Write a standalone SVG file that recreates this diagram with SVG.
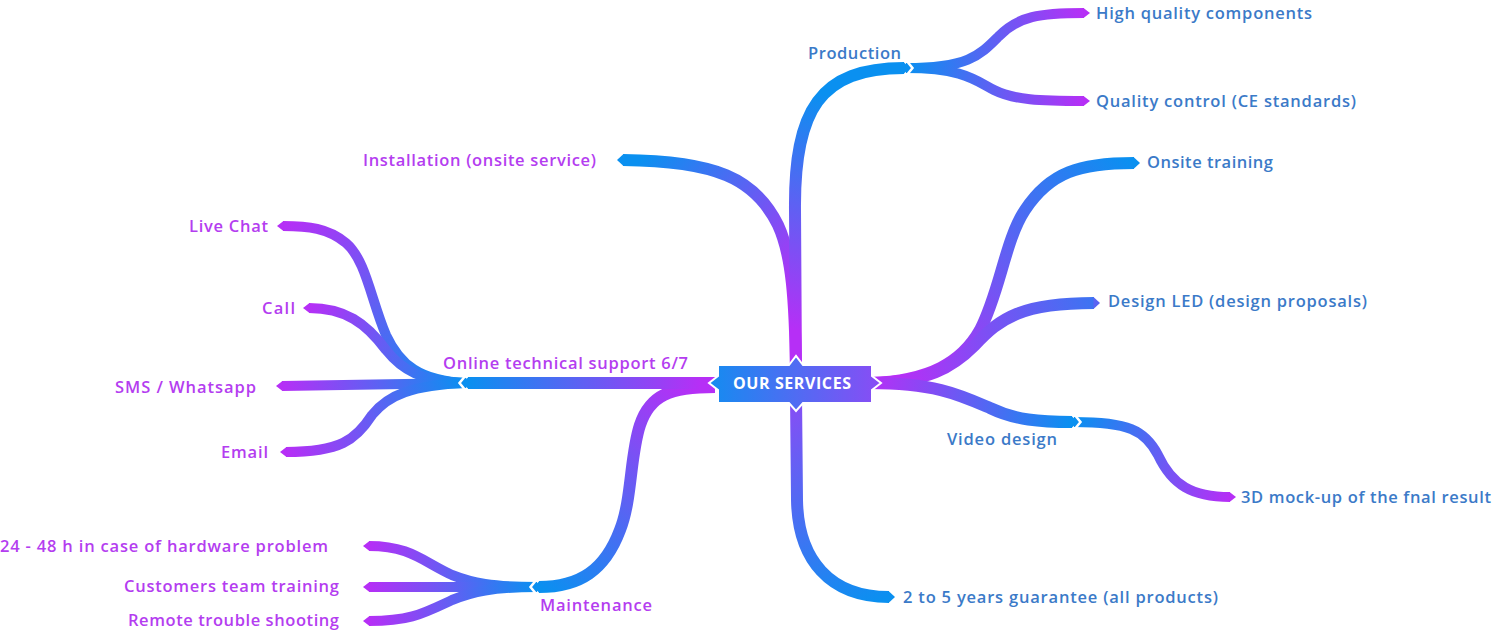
<svg xmlns="http://www.w3.org/2000/svg" width="1492" height="632" viewBox="0 0 1492 632">
<style>
.l1{fill:none;stroke-width:12;stroke-linecap:butt}
.l2{fill:none;stroke-width:10;stroke-linecap:butt}
.cut{fill:none;stroke:#fff;stroke-width:2.5;stroke-linejoin:miter}
.t{font-family:"Open Sans","Liberation Sans",sans-serif;font-size:16.5px;font-weight:600}
.p{fill:#b43df0}
.b{fill:#3b7ac8}
.tb{fill:#0a90f0}
.tp{fill:#b62ff6}
</style>
<defs>
<linearGradient id="gP1" gradientUnits="userSpaceOnUse" x1="796" y1="330" x2="850" y2="100"><stop offset="0" stop-color="#b62ff6"/><stop offset="1" stop-color="#0a90f0"/></linearGradient>
<linearGradient id="gP2" gradientUnits="userSpaceOnUse" x1="790" y1="300" x2="640" y2="160"><stop offset="0" stop-color="#b62ff6"/><stop offset="1" stop-color="#0a90f0"/></linearGradient>
<linearGradient id="gP3" gradientUnits="userSpaceOnUse" x1="920" y1="383" x2="1134" y2="163"><stop offset="0" stop-color="#b62ff6"/><stop offset="1" stop-color="#0a90f0"/></linearGradient>
<linearGradient id="gP4" gradientUnits="userSpaceOnUse" x1="900" y1="383" x2="1180" y2="290"><stop offset="0" stop-color="#b62ff6"/><stop offset="1" stop-color="#0a90f0"/></linearGradient>
<linearGradient id="gP5" gradientUnits="userSpaceOnUse" x1="870" y1="383" x2="1072" y2="422"><stop offset="0" stop-color="#b62ff6"/><stop offset="1" stop-color="#0a90f0"/></linearGradient>
<linearGradient id="gP6" gradientUnits="userSpaceOnUse" x1="796" y1="395" x2="889" y2="597"><stop offset="0" stop-color="#8a4cf5"/><stop offset="1" stop-color="#0a90f0"/></linearGradient>
<linearGradient id="gP7" gradientUnits="userSpaceOnUse" x1="700" y1="383" x2="468" y2="383"><stop offset="0" stop-color="#b62ff6"/><stop offset="1" stop-color="#0a90f0"/></linearGradient>
<linearGradient id="gP8" gradientUnits="userSpaceOnUse" x1="690" y1="387" x2="539" y2="587"><stop offset="0" stop-color="#b62ff6"/><stop offset="1" stop-color="#0a90f0"/></linearGradient>
<linearGradient id="gS1" gradientUnits="userSpaceOnUse" x1="906" y1="68" x2="1084" y2="13"><stop offset="0" stop-color="#0a90f0"/><stop offset="1" stop-color="#b62ff6"/></linearGradient>
<linearGradient id="gS2" gradientUnits="userSpaceOnUse" x1="906" y1="68" x2="1084" y2="101"><stop offset="0" stop-color="#0a90f0"/><stop offset="1" stop-color="#b62ff6"/></linearGradient>
<linearGradient id="gS3" gradientUnits="userSpaceOnUse" x1="1074" y1="422" x2="1230" y2="497"><stop offset="0" stop-color="#0a90f0"/><stop offset="1" stop-color="#b62ff6"/></linearGradient>
<linearGradient id="gS4" gradientUnits="userSpaceOnUse" x1="466" y1="383" x2="283" y2="226"><stop offset="0" stop-color="#0a90f0"/><stop offset="1" stop-color="#b62ff6"/></linearGradient>
<linearGradient id="gS5" gradientUnits="userSpaceOnUse" x1="466" y1="383" x2="309" y2="308"><stop offset="0" stop-color="#0a90f0"/><stop offset="1" stop-color="#b62ff6"/></linearGradient>
<linearGradient id="gS6" gradientUnits="userSpaceOnUse" x1="466" y1="383" x2="282" y2="386"><stop offset="0" stop-color="#0a90f0"/><stop offset="1" stop-color="#b62ff6"/></linearGradient>
<linearGradient id="gS7" gradientUnits="userSpaceOnUse" x1="466" y1="383" x2="286" y2="452"><stop offset="0" stop-color="#0a90f0"/><stop offset="1" stop-color="#b62ff6"/></linearGradient>
<linearGradient id="gS8" gradientUnits="userSpaceOnUse" x1="537" y1="587" x2="369" y2="546"><stop offset="0" stop-color="#0a90f0"/><stop offset="1" stop-color="#b62ff6"/></linearGradient>
<linearGradient id="gS9" gradientUnits="userSpaceOnUse" x1="537" y1="587" x2="369" y2="587"><stop offset="0" stop-color="#0a90f0"/><stop offset="1" stop-color="#b62ff6"/></linearGradient>
<linearGradient id="gS10" gradientUnits="userSpaceOnUse" x1="537" y1="587" x2="369" y2="621"><stop offset="0" stop-color="#0a90f0"/><stop offset="1" stop-color="#b62ff6"/></linearGradient>
<linearGradient id="gBox" x1="0" y1="0" x2="1" y2="0"><stop offset="0" stop-color="#148cf0"/><stop offset="1" stop-color="#8a4cf5"/></linearGradient>
</defs>
<g id="connectors">
<path class="l2" stroke="url(#gS1)" d="M906,68 C968,68 980,55 998,37 C1018,16 1040,13 1084,13"/>
<polygon class="tp" points="1083.5,8 1090,13 1083.5,18"/>
<path class="l2" stroke="url(#gS2)" d="M906,68 C962,68 975,80 994,90 C1014,100 1040,101 1084,101"/>
<polygon class="tp" points="1083.5,96 1090,101 1083.5,106"/>
<path class="l2" stroke="url(#gS3)" d="M1074,422 C1128,422 1145,430 1158,455 C1172,485 1192,497 1230,497"/>
<polygon class="tp" points="1229.5,492 1236,497 1229.5,502"/>
<path class="l2" stroke="url(#gS4)" d="M466,383 C420,381 400,365 386,335 C371,300 366,260 346,243 C328,228 308,226 283,226"/>
<polygon class="tp" points="283.5,221 277,226 283.5,231"/>
<path class="l2" stroke="url(#gS5)" d="M466,383 C420,381 402,370 386,350 C366,323 345,308 309,308"/>
<polygon class="tp" points="309.5,303 303,308 309.5,313"/>
<path class="l2" stroke="url(#gS6)" d="M466,383 L282,386"/>
<polygon class="tp" points="282.5,381 276,386 282.5,391"/>
<path class="l2" stroke="url(#gS7)" d="M466,383 C412,385 388,395 372,415 C356,440 340,452 286,452"/>
<polygon class="tp" points="286.5,447 280,452 286.5,457"/>
<path class="l2" stroke="url(#gS8)" d="M537,587 C492,587 472,583 452,575 C422,561 410,546 369,546"/>
<polygon class="tp" points="369.5,541 363,546 369.5,551"/>
<path class="l2" stroke="url(#gS9)" d="M537,587 L369,587"/>
<polygon class="tp" points="369.5,582 363,587 369.5,592"/>
<path class="l2" stroke="url(#gS10)" d="M537,587 C492,587 472,592 452,600 C422,614 410,621 369,621"/>
<polygon class="tp" points="369.5,616 363,621 369.5,626"/>
<path class="l1" stroke="url(#gP2)" d="M796,372 C795,300 792,255 778,225 C755,178 715,161 623,160"/>
<polygon class="tb" points="623.5,154 617,160 623.5,166"/>
<path class="l1" stroke="url(#gP1)" d="M796,372 L795,210 C794,110 820,68 904,68"/>
<polygon class="tb" points="903.5,62 910,68 903.5,74"/>
<path class="l1" stroke="url(#gP3)" d="M870,383 C930,381 962,362 980,330 C1000,292 1005,240 1025,210 C1050,172 1080,163 1134,163"/>
<polygon class="tb" points="1133.5,157 1140,163 1133.5,169"/>
<path class="l1" stroke="url(#gP4)" d="M870,383 C928,382 952,368 975,345 C1000,318 1022,303 1094,303"/>
<polygon points="1093.5,297 1100,303 1093.5,309" fill="#5a64f2"/>
<path class="l1" stroke="url(#gP5)" d="M870,383 C935,383 960,395 990,408 C1015,420 1040,422 1072,422"/>
<polygon class="tb" points="1071.5,416 1078,422 1071.5,428"/>
<path class="l1" stroke="url(#gP6)" d="M796,395 L797,500 C798,560 830,597 889,597"/>
<polygon class="tb" points="888.5,591 895,597 888.5,603"/>
<path class="l1" stroke="url(#gP8)" d="M715,387 C670,387 650,395 640,425 C630,455 632,500 620,530 C605,570 580,587 539,587"/>
<polygon class="tb" points="539.5,581 533,587 539.5,593"/>
<path class="l1" stroke="url(#gP7)" d="M722,383 L468,383"/>
<polygon class="tb" points="468.5,377 462,383 468.5,389"/>
<polyline class="cut" points="906,60 912.5,68 906,76"/>
<polyline class="cut" points="1074,414 1080.5,422 1074,430"/>
<polyline class="cut" points="466,375 459.5,383 466,391"/>
<polyline class="cut" points="537,579 530.5,587 537,595"/>
</g>
<g id="center">
<path d="M718,365 L789,365 L796,356 L803,365 L872,365 L872,376 L881,383 L872,390 L872,403 L803,403 L796,411 L789,403 L718,403 L718,390 L709,383 L718,376 Z" fill="url(#gBox)" stroke="#fff" stroke-width="2"/>
<text x="733" y="389" textLength="118" font-family="'Open Sans','Liberation Sans',sans-serif" font-size="16" font-weight="700" fill="#fff">OUR SERVICES</text>
</g>
<g id="n-production"><text class="t b" x="808" y="58.5" textLength="93">Production</text></g>
<g id="n-high-quality"><text class="t b" x="1096" y="18.5" textLength="216">High quality components</text></g>
<g id="n-quality-control"><text class="t b" x="1096" y="106.5" textLength="260">Quality control (CE standards)</text></g>
<g id="n-installation"><text class="t p" x="363" y="166" textLength="233">Installation (onsite service)</text></g>
<g id="n-onsite-training"><text class="t b" x="1147" y="168" textLength="126">Onsite training</text></g>
<g id="n-design-led"><text class="t b" x="1108" y="307" textLength="259">Design LED (design proposals)</text></g>
<g id="n-video-design"><text class="t b" x="947" y="445" textLength="110">Video design</text></g>
<g id="n-3d-mockup"><text class="t b" x="1241" y="503" textLength="250">3D mock-up of the fnal result</text></g>
<g id="n-guarantee"><text class="t b" x="903" y="603" textLength="315">2 to 5 years guarantee (all products)</text></g>
<g id="n-online-support"><text class="t p" x="443" y="369" textLength="245">Online technical support 6/7</text></g>
<g id="n-live-chat"><text class="t p" x="189" y="232" textLength="79">Live Chat</text></g>
<g id="n-call"><text class="t p" x="262" y="314" textLength="33">Call</text></g>
<g id="n-sms"><text class="t p" x="115" y="393" textLength="141">SMS / Whatsapp</text></g>
<g id="n-email"><text class="t p" x="221" y="458" textLength="47">Email</text></g>
<g id="n-maintenance"><text class="t p" x="540" y="611" textLength="112">Maintenance</text></g>
<g id="n-hardware"><text class="t p" x="0" y="552" textLength="328">24 - 48 h in case of hardware problem</text></g>
<g id="n-customers-training"><text class="t p" x="124" y="592" textLength="215">Customers team training</text></g>
<g id="n-remote"><text class="t p" x="128" y="626" textLength="211">Remote trouble shooting</text></g>
</svg>
